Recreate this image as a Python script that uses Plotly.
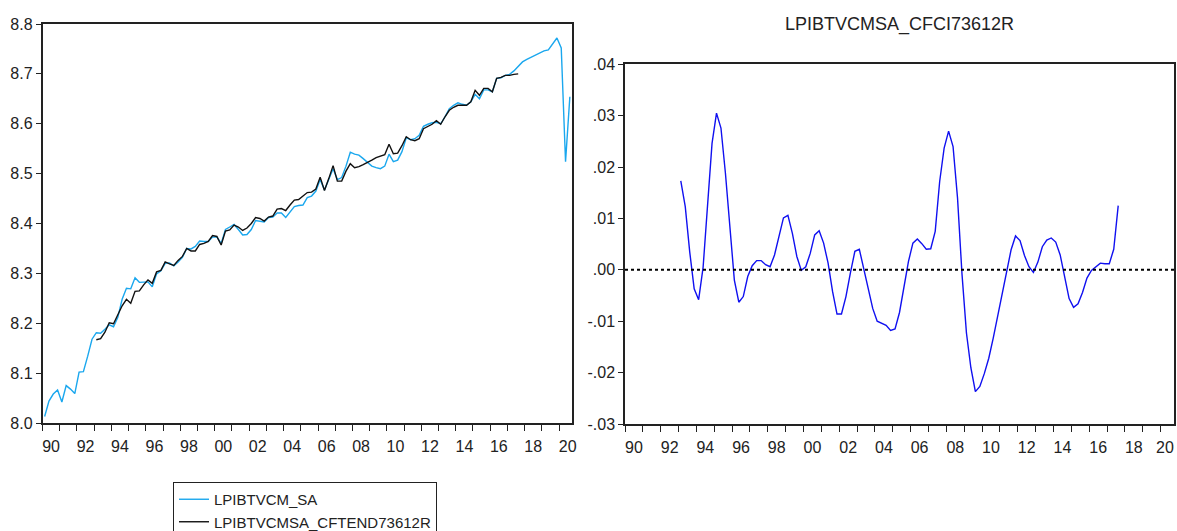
import plotly.graph_objects as go

# ---------------- data (quarterly, 1990Q1 - 2020Q3) ----------------
start_year = 1990
lpib_sa = [
    8.013, 8.044, 8.058, 8.066, 8.042, 8.075, 8.068, 8.059,   # 1990-1991
    8.102, 8.103, 8.134, 8.168, 8.181, 8.180, 8.188, 8.197,   # 1992-1993
    8.193, 8.212, 8.248, 8.270, 8.269, 8.291, 8.282, 8.283,   # 1994-1995
    8.283, 8.273, 8.299, 8.305, 8.320, 8.321, 8.315, 8.323,   # 1996-1997
    8.332, 8.350, 8.349, 8.354, 8.365, 8.364, 8.364, 8.373,   # 1998-1999
    8.373, 8.360, 8.388, 8.393, 8.398, 8.388, 8.377, 8.378,   # 2000-2001
    8.388, 8.406, 8.404, 8.403, 8.412, 8.413, 8.421, 8.421,   # 2002-2003
    8.412, 8.423, 8.434, 8.436, 8.437, 8.452, 8.455, 8.465,   # 2004-2005
    8.488, 8.467, 8.490, 8.510, 8.488, 8.492, 8.515, 8.543,   # 2006-2007
    8.539, 8.537, 8.530, 8.522, 8.515, 8.512, 8.510, 8.515,   # 2008-2009
    8.539, 8.524, 8.527, 8.544, 8.572, 8.568, 8.570, 8.577,   # 2010-2011
    8.595, 8.599, 8.602, 8.603, 8.600, 8.614, 8.630, 8.637,   # 2012-2013
    8.642, 8.639, 8.637, 8.644, 8.659, 8.650, 8.668, 8.668,   # 2014-2015
    8.664, 8.691, 8.692, 8.697, 8.699, 8.706, 8.715, 8.724,   # 2016-2017
    8.729, 8.733, 8.738, 8.742, 8.746, 8.748, 8.760, 8.772,   # 2018-2019
    8.752, 8.524, 8.654,                                       # 2020Q1-Q3
]

cf_start = 12  # 1993Q1 (quarters after 1990Q1)
cf_trend = [
    8.167, 8.169, 8.182, 8.201, 8.199, 8.216, 8.235, 8.248,   # 1993-1994
    8.240, 8.264, 8.265, 8.277, 8.287, 8.280, 8.303, 8.306,   # 1995-1996
    8.323, 8.319, 8.316, 8.326, 8.334, 8.350, 8.345, 8.345,   # 1997-1998
    8.358, 8.360, 8.364, 8.376, 8.374, 8.357, 8.385, 8.387,   # 1999-2000
    8.397, 8.393, 8.386, 8.391, 8.400, 8.412, 8.410, 8.405,   # 2001-2002
    8.413, 8.415, 8.429, 8.430, 8.426, 8.437, 8.447, 8.448,   # 2003-2004
    8.455, 8.462, 8.463, 8.469, 8.493, 8.466, 8.490, 8.516,   # 2005-2006
    8.485, 8.485, 8.505, 8.520, 8.512, 8.514, 8.518, 8.522,   # 2007-2008
    8.527, 8.532, 8.535, 8.538, 8.559, 8.540, 8.541, 8.556,   # 2009-2010
    8.574, 8.568, 8.566, 8.570, 8.590, 8.595, 8.599, 8.606,   # 2011-2012
    8.599, 8.614, 8.627, 8.633, 8.637, 8.637, 8.637, 8.644,   # 2013-2014
    8.667, 8.657, 8.671, 8.671, 8.664, 8.691, 8.693, 8.697,   # 2015-2016
    8.697, 8.699, 8.700,                                       # 2017Q1-Q3
]

cf_cycle = [
    0.0173, 0.0123, 0.0035, -0.0037, -0.0058, 0.0005, 0.0126, 0.0246,   # 1993-1994
    0.0305, 0.0276, 0.0188, 0.0080, -0.0020, -0.0063, -0.0052, -0.0013, # 1995-1996
    0.0008, 0.0018, 0.0018, 0.0010, 0.0006, 0.0029, 0.0065, 0.0101,     # 1997-1998
    0.0106, 0.0071, 0.0026, -0.0001, 0.0006, 0.0032, 0.0068, 0.0076,    # 1999-2000
    0.0052, 0.0013, -0.0042, -0.0086, -0.0086, -0.0052, -0.0006, 0.0036,# 2001-2002
    0.0040, 0.0000, -0.0039, -0.0075, -0.0100, -0.0104, -0.0108, -0.0118,# 2003-2004
    -0.0115, -0.0083, -0.0036, 0.0016, 0.0052, 0.0060, 0.0051, 0.0040,  # 2005-2006
    0.0041, 0.0075, 0.0172, 0.0237, 0.0270, 0.0240, 0.0140, -0.0008,    # 2007-2008
    -0.0123, -0.0191, -0.0237, -0.0227, -0.0202, -0.0172, -0.0133, -0.0091, # 2009-2010
    -0.0044, -0.0003, 0.0039, 0.0066, 0.0057, 0.0028, 0.0006, -0.0005,  # 2011-2012
    0.0015, 0.0045, 0.0058, 0.0062, 0.0054, 0.0029, -0.0016, -0.0056,   # 2013-2014
    -0.0073, -0.0066, -0.0044, -0.0016, -0.0001, 0.0006, 0.0013, 0.0012,# 2015-2016
    0.0012, 0.0040, 0.0125,                                              # 2017Q1-Q3
]

year_ticks = list(range(1990, 2021))
label_years = list(range(1990, 2021, 2))
label_text = [f"{y % 100:02d}" for y in label_years]
left_yticks = [8.0, 8.1, 8.2, 8.3, 8.4, 8.5, 8.6, 8.7, 8.8]
right_yticks = [0.04, 0.03, 0.02, 0.01, 0.0, -0.01, -0.02, -0.03]
right_ytext = [".04", ".03", ".02", ".01", ".00", "-.01", "-.02", "-.03"]


def qpos(i):
    # centre of quarter i (0 = 1990Q1) on a decimal-year scale
    return start_year + (i + 0.5) / 4.0


x_sa = [qpos(i) for i in range(len(lpib_sa))]
x_cf = [qpos(cf_start + i) for i in range(len(cf_trend))]
x_cy = [qpos(cf_start + i) for i in range(len(cf_cycle))]
x_end = start_year + len(lpib_sa) / 4.0

FONT = "Liberation Sans, Arial, sans-serif"
AX = "#222222"

fig = go.Figure()
fig.add_trace(go.Scatter(x=x_sa, y=lpib_sa, mode="lines", name="LPIBTVCM_SA",
                         line=dict(color="#1AA7EE", width=1.4), xaxis="x", yaxis="y"))
fig.add_trace(go.Scatter(x=x_cf, y=cf_trend, mode="lines", name="LPIBTVCMSA_CFTEND73612R",
                         line=dict(color="#111111", width=1.4), xaxis="x", yaxis="y"))
fig.add_trace(go.Scatter(x=x_cy, y=cf_cycle, mode="lines", name="LPIBTVCMSA_CFCI73612R",
                         line=dict(color="#1010F0", width=1.4), xaxis="x2", yaxis="y2",
                         showlegend=False))

W, H = 1177, 531
lx0, lx1, ly0, ly1 = 42.5, 572, 24, 423
rx0, rx1, ry0, ry1 = 625, 1174, 64.3, 424


def dx(a, b):
    return [a / W, b / W]


def dy(top, bottom):
    return [(H - bottom) / H, (H - top) / H]


xcommon = dict(range=[start_year, x_end], tickmode="array",
               tickvals=[y + 0.5 for y in label_years], ticktext=label_text,
               ticks="outside", ticklen=0, tickcolor=AX,
               minor=dict(tickmode="array", tickvals=year_ticks, ticks="outside",
                          ticklen=6, tickwidth=1, tickcolor=AX, showgrid=False),
               showline=True, linecolor=AX, linewidth=1.5, mirror=True,
               showgrid=False, zeroline=False, ticklabelstandoff=8,
               tickfont=dict(family=FONT, size=16, color="#222"))

fig.update_layout(
    width=W, height=H,
    margin=dict(l=0, r=0, t=0, b=0, autoexpand=False),
    paper_bgcolor="white", plot_bgcolor="white",
    font=dict(family=FONT, color="#222"),
    xaxis=dict(domain=dx(lx0, lx1), anchor="y", **xcommon),
    xaxis2=dict(domain=dx(rx0, rx1), anchor="y2", **xcommon),
    yaxis=dict(domain=dy(ly0, ly1), anchor="x", range=[8.0, 8.8],
               tickmode="array", tickvals=left_yticks, tickformat=".1f",
               ticks="outside", ticklen=5, tickcolor=AX,
               showline=True, linecolor=AX, linewidth=1.5, mirror=True,
               showgrid=False, zeroline=False,
               tickfont=dict(family=FONT, size=16, color="#222")),
    yaxis2=dict(domain=dy(ry0, ry1), anchor="x2", range=[-0.03, 0.04],
                tickmode="array", tickvals=right_yticks, ticktext=right_ytext,
                ticks="outside", ticklen=5, tickcolor=AX,
                showline=True, linecolor=AX, linewidth=1.5, mirror=True,
                showgrid=False, zeroline=False,
                tickfont=dict(family=FONT, size=16, color="#222")),
    showlegend=True,
    legend=dict(x=173 / W, y=(H - 482) / H, xanchor="left", yanchor="top",
                orientation="v", bgcolor="white", bordercolor="#222",
                borderwidth=1, font=dict(family=FONT, size=15, color="#222"),
                tracegroupgap=0, itemwidth=30),
)

fig.add_shape(type="line", xref="x2", yref="y2", x0=start_year, x1=x_end, y0=0, y1=0,
              line=dict(color="black", width=2, dash="dot"))

# last year label of the right panel (auto-hidden by plotly since it overflows the page);
# kept fully inside the page
fig.add_annotation(text=label_text[-1], xref="paper", yref="paper",
                   x=(W - 1) / W, y=(H - ry1 - 13) / H,
                   xanchor="right", yanchor="top", showarrow=False,
                   font=dict(family=FONT, size=16, color="#222"))

fig.add_annotation(text="LPIBTVCMSA_CFCI73612R", xref="paper", yref="paper",
                   x=((rx0 + rx1) / 2) / W, y=(H - 24) / H, xanchor="center",
                   yanchor="middle", showarrow=False,
                   font=dict(family=FONT, size=18, color="#222"))

fig.write_html("out.html")
